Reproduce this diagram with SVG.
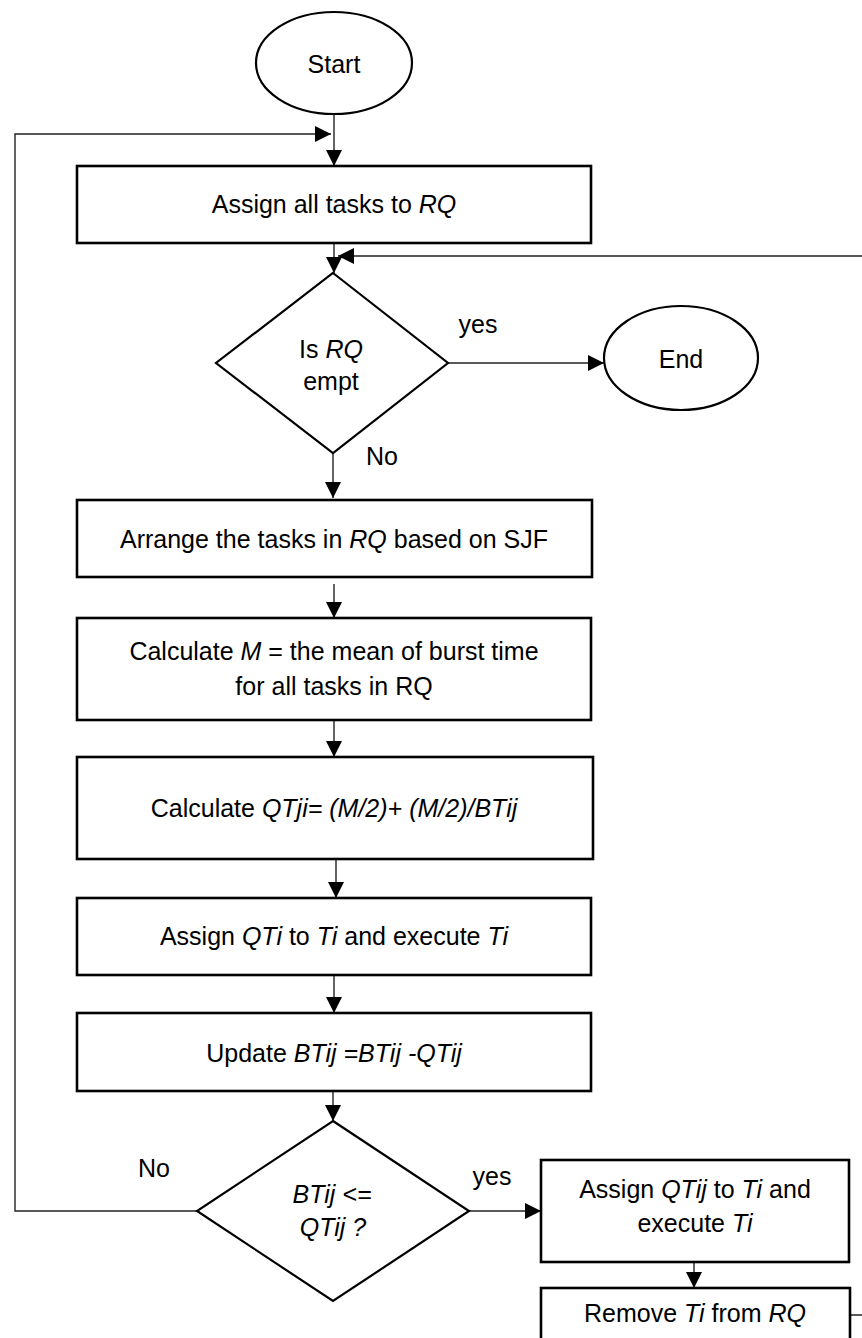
<svg xmlns="http://www.w3.org/2000/svg" width="862" height="1338" viewBox="0 0 862 1338">
<style>
text{font-family:"Liberation Sans",Arial,sans-serif;font-size:25px;fill:#000;text-anchor:middle}
.i{font-style:italic}
.box{fill:#fff;stroke:#000;stroke-width:2.6}
.sh{fill:#fff;stroke:#000;stroke-width:2.2}
.c{fill:none;stroke:#222;stroke-width:1.4}
</style>
<defs>
<marker id="ah" markerUnits="userSpaceOnUse" markerWidth="16" markerHeight="16" refX="16" refY="8" orient="auto">
<path d="M0,0 L16,8 L0,16 z" fill="#000"/>
</marker>
</defs>
<g id="connectors">
<line class="c" x1="334" y1="115" x2="334" y2="166" marker-end="url(#ah)"/>
<path class="c" d="M197,1211 H15 V134 H331" marker-end="url(#ah)"/>
<line class="c" x1="334" y1="243" x2="334" y2="273" marker-end="url(#ah)"/>
<path class="c" d="M850,1315 H880 V256 H338" marker-end="url(#ah)"/>
<line class="c" x1="448" y1="363" x2="604" y2="363" marker-end="url(#ah)"/>
<line class="c" x1="333" y1="453" x2="333" y2="498" marker-end="url(#ah)"/>
<line class="c" x1="334" y1="584" x2="334" y2="618" marker-end="url(#ah)"/>
<line class="c" x1="334" y1="720" x2="334" y2="757" marker-end="url(#ah)"/>
<line class="c" x1="336" y1="859" x2="336" y2="898" marker-end="url(#ah)"/>
<line class="c" x1="334" y1="975" x2="334" y2="1013" marker-end="url(#ah)"/>
<line class="c" x1="333" y1="1091" x2="333" y2="1121" marker-end="url(#ah)"/>
<line class="c" x1="469" y1="1211" x2="541" y2="1211" marker-end="url(#ah)"/>
<line class="c" x1="694" y1="1262" x2="694" y2="1288" marker-end="url(#ah)"/>
</g>
<g id="start">
<ellipse class="sh" cx="334" cy="63" rx="78" ry="51"/>
<text x="334" y="73">Start</text>
</g>
<g id="assign-all">
<rect class="box" x="77" y="166" width="514" height="77"/>
<text x="334" y="213">Assign all tasks to <tspan class="i">RQ</tspan></text>
</g>
<g id="is-empty">
<polygon class="sh" points="333,273 448,363 333,453 216,363"/>
<text x="331" y="358">Is <tspan class="i">RQ</tspan></text>
<text x="331" y="390">empt</text>
</g>
<text x="478" y="333">yes</text>
<text x="382" y="465">No</text>
<g id="end">
<ellipse class="sh" cx="681" cy="358" rx="77" ry="52"/>
<text x="681" y="368">End</text>
</g>
<g id="arrange">
<rect class="box" x="77" y="500" width="515" height="77"/>
<text x="334" y="548">Arrange the tasks in <tspan class="i">RQ</tspan> based on SJF</text>
</g>
<g id="calc-m">
<rect class="box" x="77" y="618" width="514" height="102"/>
<text x="334" y="660">Calculate <tspan class="i">M</tspan> = the mean of burst time</text>
<text x="334" y="695">for all tasks in RQ</text>
</g>
<g id="calc-qt">
<rect class="box" x="77" y="757" width="516" height="102"/>
<text x="334" y="817">Calculate <tspan class="i">QTji= (M/2)+ (M/2)/BTij</tspan></text>
</g>
<g id="assign-qti">
<rect class="box" x="77" y="898" width="514" height="77"/>
<text x="334" y="945">Assign <tspan class="i">QTi</tspan> to <tspan class="i">Ti</tspan> and execute <tspan class="i">Ti</tspan></text>
</g>
<g id="update">
<rect class="box" x="77" y="1013" width="514" height="78"/>
<text x="334" y="1062">Update <tspan class="i">BTij =BTij -QTij</tspan></text>
</g>
<g id="check">
<polygon class="sh" points="333,1121 469,1211 333,1301 197,1211"/>
<text class="i" x="332" y="1203">BTij &lt;=</text>
<text class="i" x="333" y="1236">QTij ?</text>
</g>
<text x="154" y="1177">No</text>
<text x="492" y="1185">yes</text>
<g id="assign-qtij">
<rect class="box" x="541" y="1160" width="308" height="102"/>
<text x="695" y="1198">Assign <tspan class="i">QTij</tspan> to <tspan class="i">Ti</tspan> and</text>
<text x="695" y="1232">execute <tspan class="i">Ti</tspan></text>
</g>
<g id="remove">
<rect class="box" x="541" y="1288" width="309" height="60"/>
<text x="695" y="1322">Remove <tspan class="i">Ti</tspan> from <tspan class="i">RQ</tspan></text>
</g>
</svg>
